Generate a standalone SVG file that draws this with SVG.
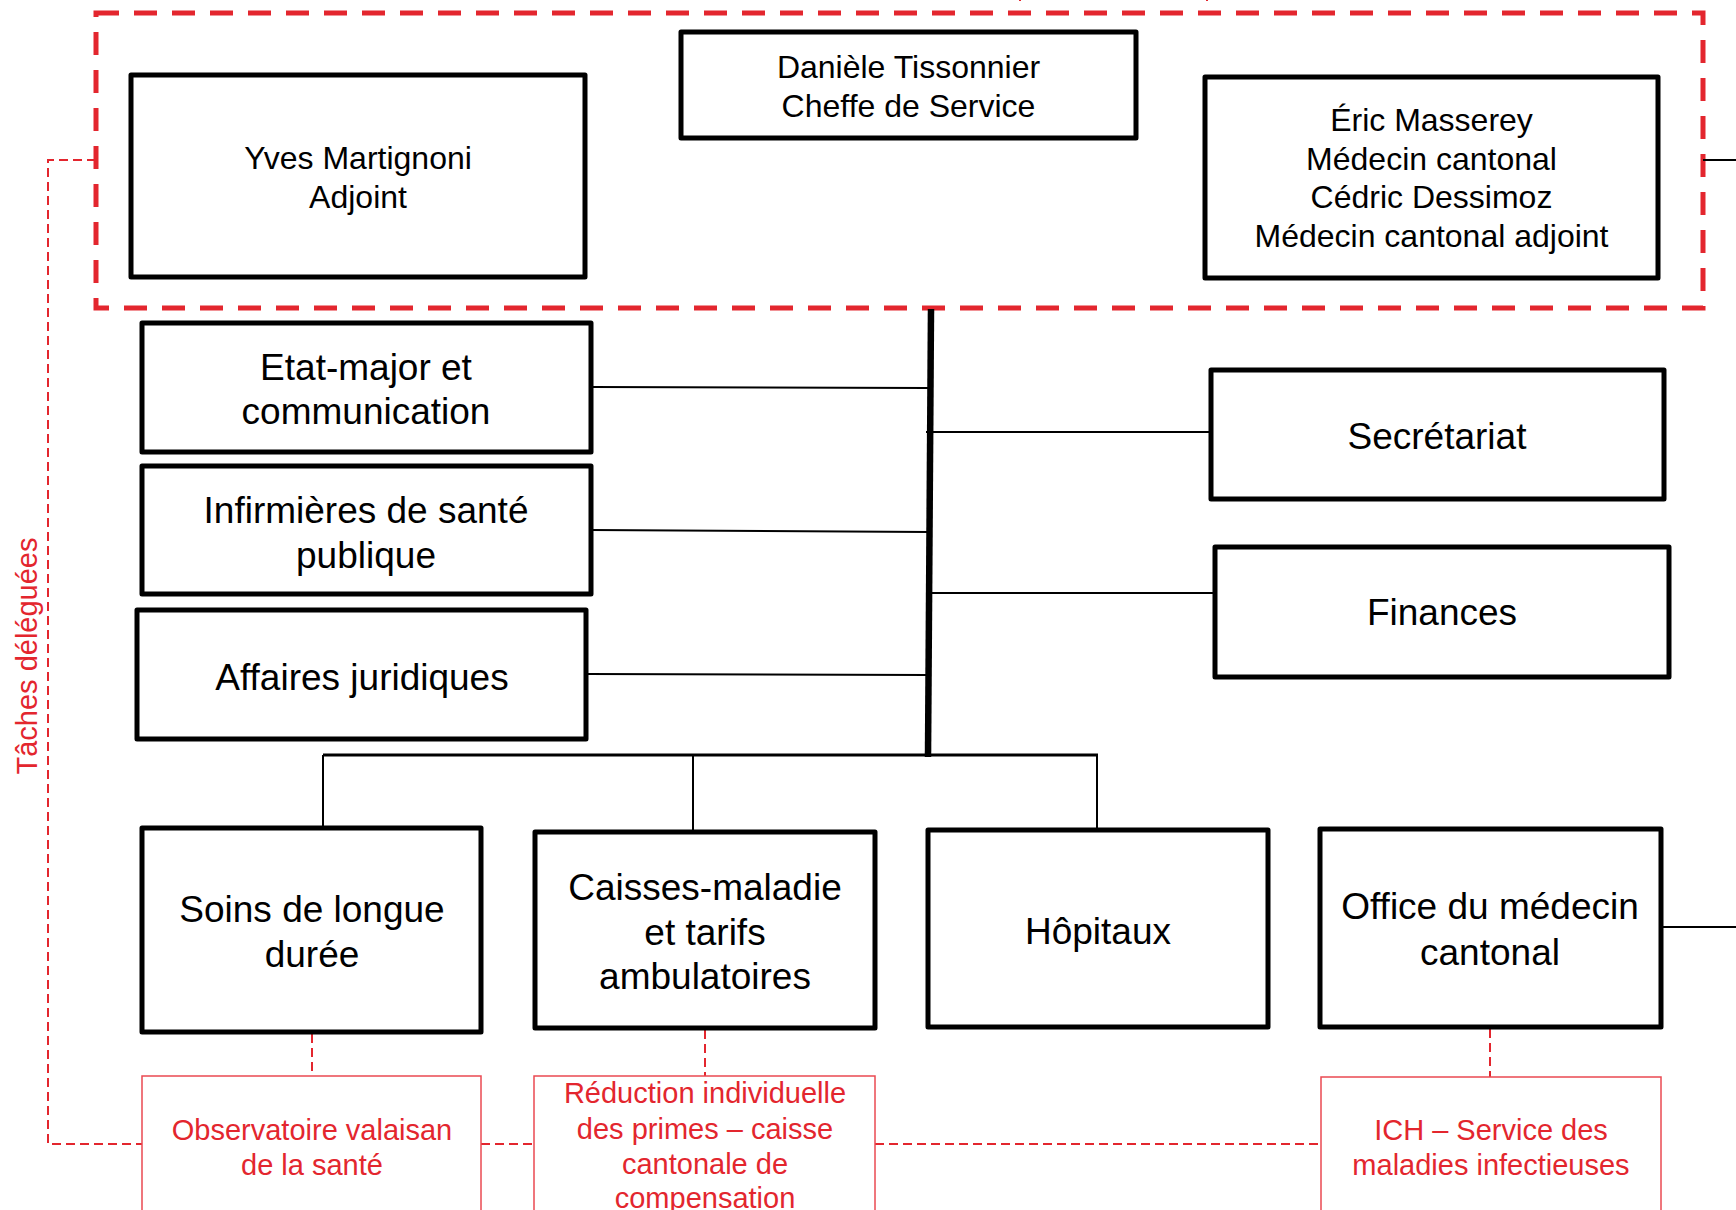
<svg xmlns="http://www.w3.org/2000/svg" width="1736" height="1210" viewBox="0 0 1736 1210">
<style>
  .box { fill: #fff; stroke: #000; stroke-width: 5; stroke-linejoin: round; }
  .rbox { fill: #fff; stroke: #ea4a52; stroke-width: 1.5; }
  .t { font-family: "Liberation Sans", Arial, sans-serif; fill: #000; text-anchor: middle; }
  .top { font-size: 32px; }
  .mid { font-size: 37px; }
  .rt { font-family: "Liberation Sans", Arial, sans-serif; fill: #e3262e; text-anchor: middle; font-size: 29px; }
  .conn { stroke: #000; stroke-width: 2; fill: none; }
  .bus { stroke: #000; stroke-width: 3; fill: none; }
  .spine { stroke: #000; stroke-width: 6.5; fill: none; }
  .rdash { stroke: #e3262e; stroke-width: 2; fill: none; stroke-dasharray: 9 5; }
  .bigdash { stroke: #e3262e; stroke-width: 5; fill: none; stroke-dasharray: 23 15; }
</style>
<rect width="1736" height="1210" fill="#fff"/>

<g id="connectors">
  <rect class="bigdash" x="96" y="13" width="1607" height="295"/>
  <path d="M1020,-6 V1 M1207,-6 V1" stroke="#e3262e" stroke-width="2"/>
  <path class="rdash" d="M96,160 H48 V1144 H142"/>
  <path class="rdash" d="M481,1144 H534"/>
  <path class="rdash" d="M875,1144 H1321"/>
  <path class="rdash" d="M312,1034 V1076"/>
  <path class="rdash" d="M705,1030 V1076"/>
  <path class="rdash" d="M1490,1029 V1077"/>
  <line class="spine" x1="931" y1="309" x2="928" y2="757"/>
  <line class="conn" x1="591" y1="387" x2="929" y2="388"/>
  <line class="conn" x1="591" y1="530" x2="929" y2="532"/>
  <line class="conn" x1="586" y1="674" x2="929" y2="675"/>
  <line class="conn" x1="926" y1="432" x2="1211" y2="432"/>
  <line class="conn" x1="931" y1="593" x2="1215" y2="593"/>
  <line class="bus" x1="323" y1="755" x2="1098" y2="755"/>
  <line class="conn" x1="323" y1="755" x2="323" y2="828"/>
  <line class="conn" x1="693" y1="755" x2="693" y2="832"/>
  <line class="conn" x1="1097" y1="755" x2="1097" y2="830"/>
  <line class="conn" x1="1661" y1="927" x2="1736" y2="927"/>
  <line class="conn" x1="1703" y1="160" x2="1736" y2="160"/>
  <text class="rt" transform="translate(37,656) rotate(-90)" x="0" y="0">Tâches déléguées</text>
</g>

<g id="yves">
  <rect class="box" x="131" y="75" width="454" height="202"/>
  <text class="t top" x="358" y="169">Yves Martignoni</text>
  <text class="t top" x="358" y="208">Adjoint</text>
</g>
<g id="daniele">
  <rect class="box" x="681" y="32" width="455" height="106"/>
  <text class="t top" x="908.5" y="78">Danièle Tissonnier</text>
  <text class="t top" x="908.5" y="117">Cheffe de Service</text>
</g>
<g id="eric">
  <rect class="box" x="1205" y="77" width="453" height="201"/>
  <text class="t top" x="1431.5" y="131">Éric Masserey</text>
  <text class="t top" x="1431.5" y="170">Médecin cantonal</text>
  <text class="t top" x="1431.5" y="208">Cédric Dessimoz</text>
  <text class="t top" x="1431.5" y="247">Médecin cantonal adjoint</text>
</g>
<g id="etatmajor">
  <rect class="box" x="142" y="323" width="449" height="129"/>
  <text class="t mid" x="366" y="380">Etat-major et</text>
  <text class="t mid" x="366" y="424">communication</text>
</g>
<g id="infirmieres">
  <rect class="box" x="142" y="466" width="449" height="128"/>
  <text class="t mid" x="366" y="523">Infirmières de santé</text>
  <text class="t mid" x="366" y="568">publique</text>
</g>
<g id="affaires">
  <rect class="box" x="137" y="610" width="449" height="129"/>
  <text class="t mid" x="362" y="690">Affaires juridiques</text>
</g>
<g id="secretariat">
  <rect class="box" x="1211" y="370" width="453" height="129"/>
  <text class="t mid" x="1437" y="449">Secrétariat</text>
</g>
<g id="finances">
  <rect class="box" x="1215" y="547" width="454" height="130"/>
  <text class="t mid" x="1442" y="625">Finances</text>
</g>
<g id="soins">
  <rect class="box" x="142" y="828" width="339" height="204"/>
  <text class="t mid" x="312" y="922">Soins de longue</text>
  <text class="t mid" x="312" y="967">durée</text>
</g>
<g id="caisses">
  <rect class="box" x="535" y="832" width="340" height="196"/>
  <text class="t mid" x="705" y="900">Caisses-maladie</text>
  <text class="t mid" x="705" y="945">et tarifs</text>
  <text class="t mid" x="705" y="989">ambulatoires</text>
</g>
<g id="hopitaux">
  <rect class="box" x="928" y="830" width="340" height="197"/>
  <text class="t mid" x="1098" y="944">Hôpitaux</text>
</g>
<g id="office">
  <rect class="box" x="1320" y="829" width="341" height="198"/>
  <text class="t mid" x="1490" y="919">Office du médecin</text>
  <text class="t mid" x="1490" y="965">cantonal</text>
</g>
<g id="observatoire">
  <rect class="rbox" x="142" y="1076" width="339" height="150"/>
  <text class="rt" x="312" y="1140">Observatoire valaisan</text>
  <text class="rt" x="312" y="1175">de la santé</text>
</g>
<g id="reduction">
  <rect class="rbox" x="534" y="1076" width="341" height="150"/>
  <text class="rt" x="705" y="1103">Réduction individuelle</text>
  <text class="rt" x="705" y="1139">des primes – caisse</text>
  <text class="rt" x="705" y="1174">cantonale de</text>
  <text class="rt" x="705" y="1208">compensation</text>
</g>
<g id="ich">
  <rect class="rbox" x="1321" y="1077" width="340" height="150"/>
  <text class="rt" x="1491" y="1140">ICH – Service des</text>
  <text class="rt" x="1491" y="1175">maladies infectieuses</text>
</g>
</svg>
